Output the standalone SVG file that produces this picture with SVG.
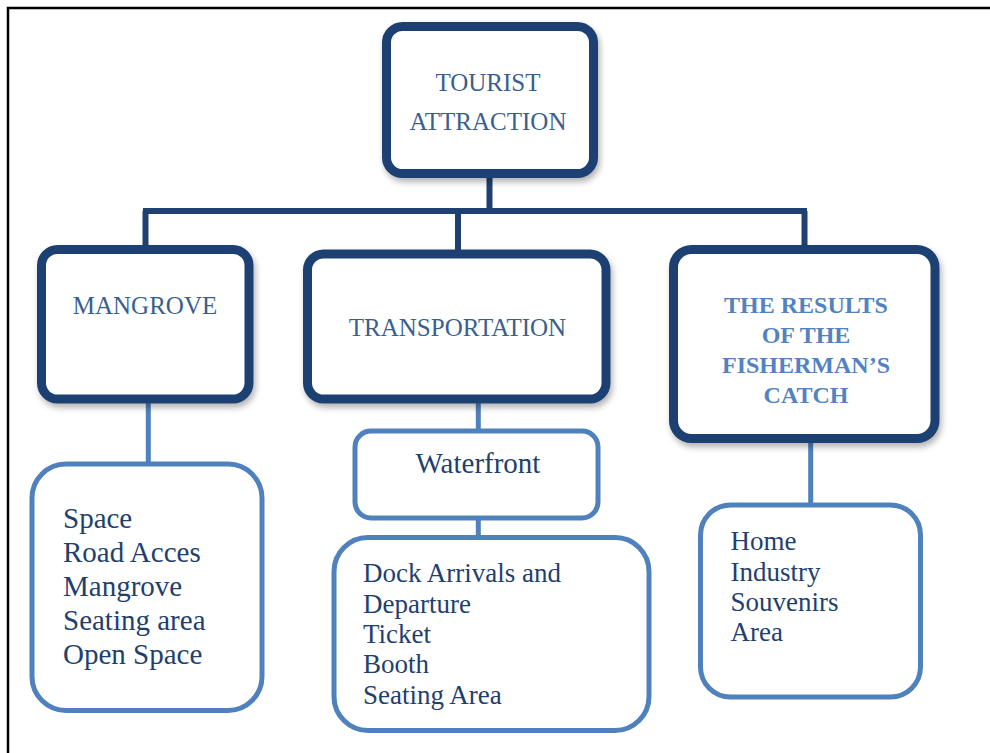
<svg xmlns="http://www.w3.org/2000/svg" width="990" height="753" viewBox="0 0 990 753">
<defs>
<filter id="sh" x="-10%" y="-10%" width="125%" height="130%">
<feDropShadow dx="2" dy="4" stdDeviation="3" flood-color="#000" flood-opacity="0.3"/>
</filter>
<style>
.main{fill:#fff;stroke:#1F4171;stroke-width:9;filter:url(#sh)}
.sub{fill:#fff;stroke:#4F81BD;stroke-width:5}
.htxt{font-size:25px;fill:#3A5F8E;text-anchor:middle}
.btxt{font-size:24px;font-weight:bold;fill:#5283C0;text-anchor:middle}
.ltxt{font-size:27px;fill:#1F3F6E}
.big{font-size:29px}
.dk{stroke:#1F4171;stroke-width:6;fill:none}
.lt{stroke:#4F81BD;stroke-width:5;fill:none}
</style>
</defs>
<rect width="990" height="753" fill="#fff"/>
<rect x="8" y="8" width="1000" height="800" fill="none" stroke="#000" stroke-width="2.5"/>
<g id="connectors">
<path class="dk" d="M489.5,178 V211 M143,211 H807 M145.5,211 V250 M458,211 V252 M804.5,211 V250"/>
<path class="lt" d="M148.3,403 V463 M478.3,403 V430 M478.3,519 V536 M810.7,443 V504"/>
</g>
<g font-family="Liberation Serif, Times New Roman, Times, serif">
<g id="tourist-attraction">
<rect class="main" x="386.5" y="26.5" width="207" height="147" rx="16"/>
<text class="htxt" x="488" y="91">TOURIST</text>
<text class="htxt" x="488" y="130">ATTRACTION</text>
</g>
<g id="mangrove">
<rect class="main" x="41.5" y="249.5" width="207.5" height="149.5" rx="16"/>
<text class="htxt" x="145" y="314">MANGROVE</text>
</g>
<g id="transportation">
<rect class="main" x="307.5" y="254" width="298.5" height="145" rx="16"/>
<text class="htxt" x="457.5" y="336">TRANSPORTATION</text>
</g>
<g id="fisherman">
<rect class="main" x="673.5" y="249.5" width="261.5" height="189" rx="18"/>
<text class="btxt" x="806" y="313">THE RESULTS</text>
<text class="btxt" x="806" y="343">OF THE</text>
<text class="btxt" x="806" y="373">FISHERMAN’S</text>
<text class="btxt" x="806" y="403">CATCH</text>
</g>
<g id="mangrove-list">
<rect class="sub" x="32" y="464" width="230" height="246.5" rx="34"/>
<text class="ltxt big" x="63" y="528">Space</text>
<text class="ltxt big" x="63" y="562">Road Acces</text>
<text class="ltxt big" x="63" y="596">Mangrove</text>
<text class="ltxt big" x="63" y="630">Seating area</text>
<text class="ltxt big" x="63" y="664">Open Space</text>
</g>
<g id="waterfront">
<rect class="sub" x="355" y="431" width="243" height="87" rx="16"/>
<text class="ltxt big" x="478" y="473" text-anchor="middle">Waterfront</text>
</g>
<g id="dock-list">
<rect class="sub" x="334" y="537.5" width="315" height="193" rx="34"/>
<text class="ltxt" x="363" y="582">Dock Arrivals and</text>
<text class="ltxt" x="363" y="612.5">Departure</text>
<text class="ltxt" x="363" y="642.5">Ticket</text>
<text class="ltxt" x="363" y="673">Booth</text>
<text class="ltxt" x="363" y="703.5">Seating Area</text>
</g>
<g id="home-list">
<rect class="sub" x="700.5" y="505" width="220" height="192" rx="30"/>
<text class="ltxt" x="730.5" y="550">Home</text>
<text class="ltxt" x="730.5" y="580.5">Industry</text>
<text class="ltxt" x="730.5" y="610.5">Souvenirs</text>
<text class="ltxt" x="730.5" y="640.5">Area</text>
</g>
</g>
</svg>
